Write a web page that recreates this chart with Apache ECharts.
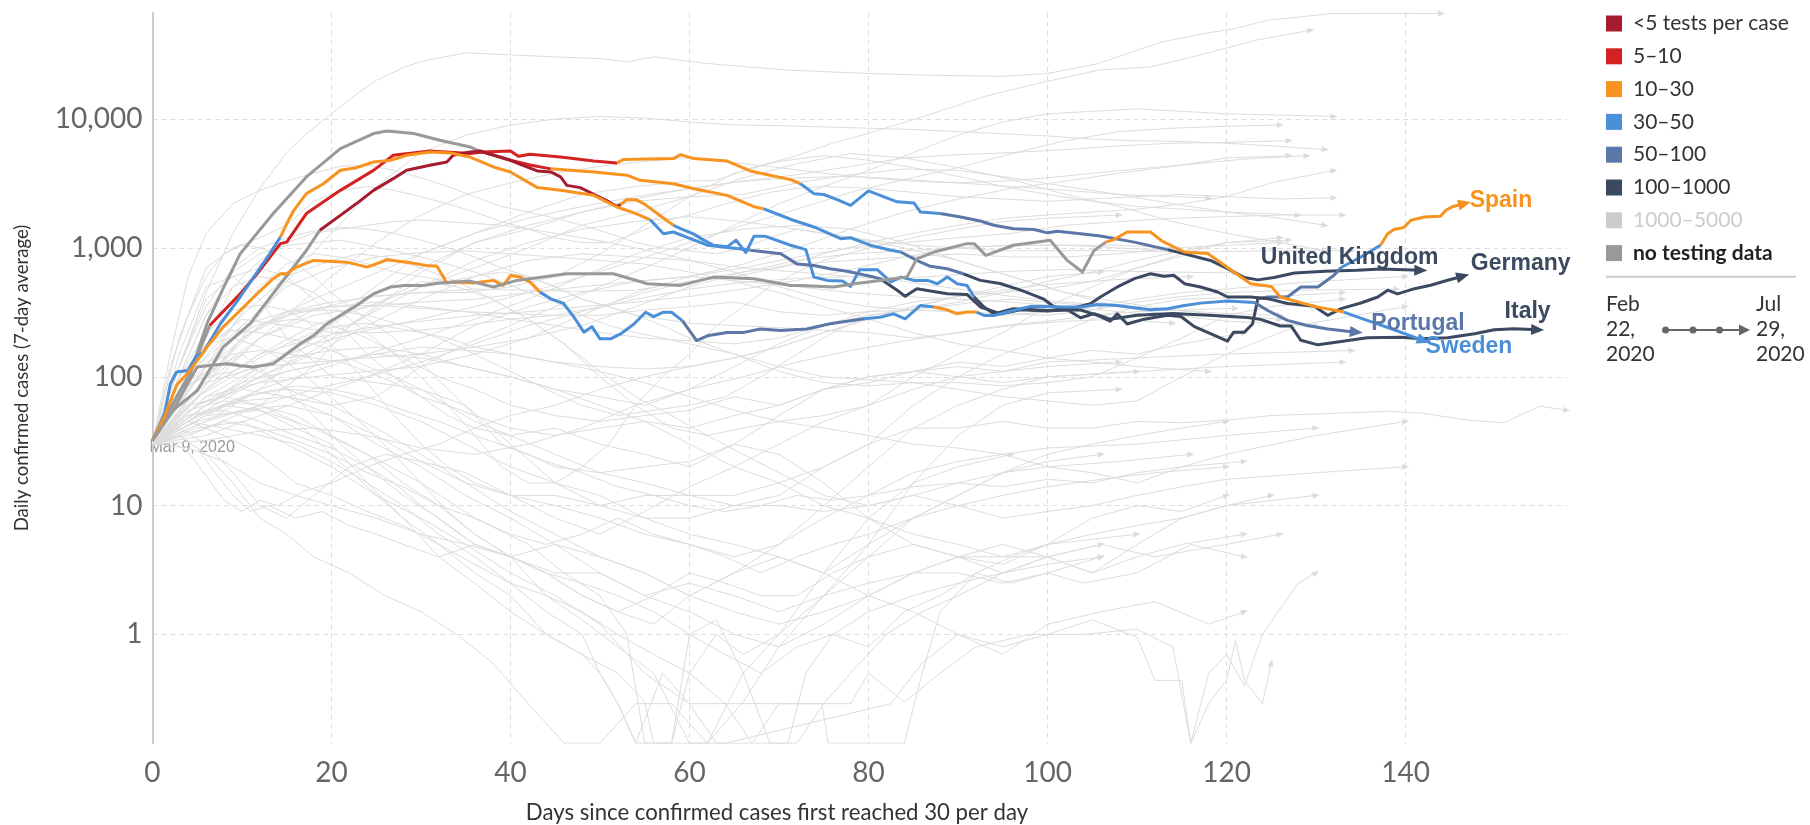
<!DOCTYPE html>
<html>
<head>
<meta charset="utf-8">
<script src="https://cdn.jsdelivr.net/npm/echarts@6/dist/echarts.min.js"></script>
<style>
  html, body { margin: 0; padding: 0; background: #fff; }
  #chart { width: 1810px; height: 825px; }
</style>
</head>
<body>
<div id="chart"></div>
<script>
// tests per case categories (legend order)
const categories = ['<5 tests per case', '5–10', '10–30', '30–50', '50–100', '100–1000', '1000–5000', 'no testing data'];
const dayTicks = [0, 20, 40, 60, 80, 100, 120, 140];
const caseTicks = [1, 10, 100, 1000, 10000];
const startDate = 'Feb\n22,\n2020';
const endDate = 'Jul\n29,\n2020';

// highlighted countries: [days since 30/day, daily cases (7-day avg)]
const unitedKingdom = [[0,32],[2.3,62],[4.2,105],[6.4,250],[9.8,440],[11.7,630],[14.3,1080],[15,1110],[17.2,1850],[21,2800],[24.7,4000],[26.9,5240],[31,5660],[35.5,5400],[37,5560],[40,5660],[40.9,5150],[42.2,5340],[45.6,5090],[49.3,4730],[51.9,4570],[52.6,4850],[58.2,4940],[59,5300],[60.5,4940],[64.2,4730],[66.8,3960],[69,3670],[71.3,3390],[72.4,3150],[73.9,2640],[75,2600],[76.5,2370],[78,2140],[80,2770],[81.3,2560],[83.2,2280],[85.1,2230],[85.8,1900],[88,1850],[90.3,1740],[92.5,1620],[94,1500],[96.2,1410],[98.5,1390],[100,1310],[101.1,1350],[103.7,1290],[105.9,1240],[109.7,1110],[113.4,970],[115.3,900],[118.2,800],[120.1,690],[122,590],[123.5,565],[125.3,590],[127.6,640],[131,660],[134.6,670],[137.2,685],[141.7,670]];
// [first day, category index] — tests per confirmed case along the line
const unitedKingdomTests = [[0,7],[6.4,1],[51.9,2],[72.4,3],[88,4],[113.4,5]];

const spain = [[0,32],[2.3,62],[4.2,105],[6.1,258],[8,500],[9.8,900],[13.5,1850],[17.2,3560],[21,5900],[24.7,7730],[26.2,8100],[29.2,7730],[32.1,6860],[35.5,6080],[36.4,5700],[40,4790],[42.2,4400],[44.5,4110],[45.6,4070],[49.3,3890],[53,3670],[54.5,3350],[58.2,3150],[60.5,2880],[64.2,2560],[67.2,2090],[68.3,2010],[71.6,1640],[73.9,1455],[76.9,1180],[78,1200],[80.2,1050],[82.5,960],[83.6,930],[85.4,800],[86.9,720],[88.8,690],[90.6,630],[92.5,560],[94.7,530],[97,470],[99.6,400],[100.7,350],[102.2,330],[103.7,330],[105.6,300],[107,270],[107.8,308],[108.9,257],[110.8,280],[113.4,300],[114.9,294],[116.4,245],[118.2,216],[120.1,189],[120.8,222],[122,222],[122.9,257],[123.5,404],[124.6,416],[126.8,416],[128.3,498],[130.2,498],[132,614],[132.8,705],[135,851],[137.2,1050],[138,1290],[138.7,1390],[139.8,1440],[140.6,1640],[142.1,1740],[143.9,1760],[144.5,1960],[145.3,2100],[146.6,2210]];
const spainTests = [[0,7],[36.4,1],[44.5,2],[68.3,3],[83.6,4],[90.6,5],[123.5,4],[132.8,3],[137.2,2]];

const italy = [[0,32],[2.3,55],[5,78],[7.9,170],[10.9,257],[14.3,525],[17.2,955],[18.7,1370],[21,1790],[22.8,2210],[24.7,2800],[26.9,3450],[28.4,4010],[31,4380],[32.9,4650],[33.6,5240],[35.5,5560],[36.6,5660],[40,4790],[41.1,4460],[43,3960],[44.5,3890],[45.6,3560],[46.3,3060],[47.8,2940],[49.3,2610],[50.8,2320],[51.9,2100],[52.3,2170],[53,2370],[54,2370],[54.9,2210],[56.4,1850],[58.2,1500],[59,1410],[60.5,1280],[61.6,1150],[62.7,1050],[64.2,1020],[65.2,1150],[66.3,920],[67.2,1230],[68.5,1230],[71.3,1050],[73,970],[73.9,594],[75.4,560],[77.1,553],[78,503],[79,676],[81,676],[82.5,545],[83.6,594],[85.1,560],[86.6,560],[87.7,527],[88.8,594],[89.9,527],[91,512],[91.8,416],[92.9,348],[94,308],[96.2,337],[98.5,331],[100,327],[102.2,331],[103.7,287],[105.2,309],[107,280],[110,300],[114,310],[118,300],[122.3,288],[123.8,279],[126,248],[127.2,248],[128.3,192],[130.2,177],[132.8,188],[135.7,201],[139.5,203],[141.7,197],[144.7,201],[147.7,216],[149.9,232],[152.1,236],[154.75,232]];
const italyTests = [[0,7],[18.7,0],[52.3,2],[58.2,3],[91.8,5]];

const germany = [[0,32],[0.85,43],[1.4,53],[2,88],[2.7,109],[4,112],[4.8,142],[5.7,155],[7.6,258],[9.8,416],[11.7,650],[13.1,900],[14.3,1215],[15,1540],[15.8,1960],[17.2,2640],[19.1,3150],[21,4010],[22.8,4200],[24.7,4650],[26.6,4790],[28.4,5240],[31,5560],[33.3,5460],[35.5,5080],[38.1,4250],[40,3890],[43,2940],[45.6,2800],[49.3,2560],[51.9,2080],[53.8,1870],[55.6,1660],[57.1,1290],[58.2,1330],[60.1,1180],[62,1050],[63.5,1020],[65.3,990],[66.8,960],[70.2,900],[72,752],[73.9,730],[75.7,690],[77.6,660],[80.6,594],[81.3,577],[83.2,469],[84.1,421],[85.4,483],[88.8,441],[91,436],[92.5,348],[94.8,308],[97,331],[100,324],[102.2,331],[104.8,369],[105.9,416],[107.8,498],[109.7,578],[111.5,630],[113,603],[114.1,614],[115.3,528],[117.1,498],[119,455],[120.1,416],[122.7,416],[124.6,404],[126.8,370],[129.8,352],[131.3,300],[132.8,338],[135,374],[136.9,416],[138,470],[139.1,440],[141,483],[142.8,513],[144.7,561],[146.4,603]];
const germanyTests = [[0,3],[14.3,2],[55.6,3],[66.8,4],[81.3,5]];

const portugal = [[0,32],[1.4,50],[2.7,86],[4.2,112],[6.1,170],[7.9,243],[9.8,327],[11.7,441],[13.5,577],[14.3,630],[15,630],[16.1,710],[18,800],[21.7,776],[24,710],[25,753],[26.2,810],[28.4,776],[30.6,730],[31.8,720],[32.9,534],[33.6,543],[35.9,534],[38.1,560],[39.2,512],[40,611],[41.1,594],[42.2,543],[43.3,454],[44.5,403],[45.9,372],[47.1,290],[48.2,222],[49.1,245],[50,197],[51.2,197],[52.3,215],[53.8,257],[55.1,317],[56,293],[57.1,317],[58,317],[59.2,273],[60.8,191],[62,208],[64.2,221],[66.1,221],[67.9,235],[70.2,229],[73.1,235],[75.7,258],[79.5,282],[81.3,290],[82.8,308],[84.1,282],[85.8,358],[87.3,348],[88.8,331],[89.9,308],[91,318],[92.1,318],[92.9,299],[94,299],[96.2,327],[98.1,352],[101.8,348],[103.7,348],[105.6,364],[107.8,358],[109.7,344],[111.5,331],[113.4,337],[115.3,358],[117.1,373],[120.1,387],[123.1,378],[124.6,327],[126.8,274],[129,250],[131.3,235],[134.5,222]];
const portugalTests = [[0,2],[43.3,3],[59.2,4],[79.5,3],[87.3,2],[92.1,3],[123.1,4]];

const sweden = [[0,32],[2.3,55],[5,119],[6.1,122],[8.3,126],[9.8,122],[11.3,119],[13.5,126],[15,151],[16.5,180],[18,209],[19.5,258],[21.3,309],[22.8,358],[24.7,441],[26.6,497],[28.1,512],[30.3,512],[32.1,534],[35.5,553],[38.1,497],[40.7,560],[46.3,630],[51.5,630],[55.3,527],[59,512],[62.7,594],[67.2,577],[71.3,512],[72.4,512],[76.1,497],[78.4,527],[81.3,560],[84.3,594],[85.4,824],[87.3,929],[91,1080],[91.8,1080],[93.1,875],[96.2,1050],[100.3,1146],[102.2,800],[103.9,650],[105.2,957],[106.5,1110],[107.4,1160],[108.9,1330],[111.5,1330],[112.8,1130],[115.3,930],[117.9,904],[120.3,690],[122.7,528],[125,503],[126,416],[129.8,352],[133.1,318],[135.7,274],[138.5,235],[142,191]];
const swedenTests = [[0,7],[106.5,2],[133.1,3]];

// other countries, drawn in light grey
const largeOutbreaks = [
  ['United States', [[0,30],[3,120],[6,450],[9,1300],[12,2900],[15,5500],[17,7500],[20,11000],[23,16000],[25,20000],[28,25000],[30,28000],[35,32700],[40,31500],[45,30400],[50,29500],[53,27800],[56,30400],[62,27000],[71,24000],[80,22600],[87,21900],[95,21500],[100,22600],[105.7,27000],[110,34300],[113,40000],[117.6,46300],[121,50600],[124.7,58700],[131.8,66000],[138,66200],[144,66000]]],
  ['India', [[0,30],[6,45],[12,80],[18,200],[24,450],[30,900],[36,1300],[42,1900],[48,2600],[54,3000],[60,3300],[63,3350],[67,4200],[71.4,5060],[76,6500],[80,7760],[86,10400],[92.8,14900],[99,19000],[105.7,24000],[111.5,25400],[116.2,30400],[123.3,41000],[129.4,49000]]],
  ['Russia', [[0,30],[5,70],[10,200],[15,550],[20,1300],[25,3000],[30,5500],[35,7500],[40,9000],[45,10000],[50,10500],[55,10200],[60,9500],[65,9000],[70,8900],[75,8700],[80,8500],[85,8300],[90,8000],[95,7700],[100,7400],[105,7000],[110,6800],[115,6700],[120,6500],[125,6200],[131,5800]]],
  ['Mexico', [[0,30],[6,60],[12,110],[18,200],[24,400],[30,700],[36,1100],[42,1500],[48,1900],[54,2400],[60,2900],[66,3300],[72,3700],[78,4300],[84,5000],[90,5300],[96,5500],[102,5800],[108,6200],[114,6500],[120,6600],[127,6800]]],
  ['Peru', [[0,30],[5,80],[10,150],[15,300],[20,600],[25,1100],[30,1800],[35,2600],[40,3200],[45,3800],[50,4300],[55,4700],[60,5000],[65,4600],[70,4200],[75,3800],[80,3500],[85,3300],[90,3200],[95,3300],[100,3500],[105,3800],[110,4100],[115,4400],[122,4900],[129,5200]]],
  ['Chile', [[0,30],[5,120],[10,250],[15,320],[20,380],[25,420],[30,450],[35,450],[40,500],[45,600],[50,900],[55,1500],[60,2500],[65,3800],[70,4700],[75,5200],[80,4800],[85,4200],[90,3600],[95,3000],[100,2600],[105,2300],[110,2100],[115,2000],[120,1900],[128,1800]]],
  ['South Africa', [[0,30],[5,100],[10,150],[15,80],[20,60],[25,70],[30,120],[35,180],[40,250],[45,350],[50,500],[55,700],[60,1000],[65,1500],[70,2200],[75,3000],[80,4000],[85,5500],[90,7500],[95,9500],[100,11000],[105,11500],[110,12000],[115,11500],[120,11000],[132,10500]]],
  ['Colombia', [[0,30],[6,70],[12,120],[18,180],[24,230],[30,280],[36,350],[42,450],[48,600],[54,800],[60,1100],[66,1500],[72,2000],[78,2700],[84,3400],[90,4200],[96,5400],[102,6800],[108,8000],[114,8500],[120,8800],[126,9000]]],
  ['Iran', [[0,30],[3,200],[6,700],[9,1000],[12,1200],[15,1500],[18,2300],[21,2800],[24,3000],[27,2800],[30,2500],[33,2200],[36,1900],[39,1600],[42,1400],[45,1200],[48,1100],[51,1100],[54,1300],[57,1600],[60,1800],[63,2100],[66,2400],[69,2700],[72,2900],[75,3000],[80,2900],[85,2700],[90,2500],[95,2400],[100,2300],[105,2400],[110,2500],[115,2600],[120,2500],[126,2400],[132,2450]]],
  ['Turkey', [[0,30],[2,150],[4,600],[6,1300],[9,2200],[12,2800],[15,3300],[18,3800],[21,4300],[24,4400],[27,4000],[30,3500],[33,3000],[36,2500],[39,2100],[42,1900],[45,1700],[48,1500],[51,1300],[54,1100],[57,1000],[60,950],[63,900],[66,1000],[69,1200],[72,1400],[75,1300],[80,1150],[85,1050],[90,1000],[95,950],[100,950],[105,960],[110,940],[115,930],[120,940],[125,950],[130,960],[134,950]]],
  ['Saudi Arabia', [[0,30],[6,60],[12,100],[18,160],[24,300],[30,650],[36,1100],[42,1400],[48,1900],[54,2300],[60,2500],[66,2600],[72,3200],[78,3700],[84,4100],[90,4000],[96,3500],[102,3000],[108,2600],[114,2200],[120,1900],[126,1700],[131,1500]]],
  ['Pakistan', [[0,30],[6,80],[12,150],[18,250],[24,350],[30,500],[36,700],[42,1000],[48,1500],[54,1900],[60,2500],[66,3500],[72,4500],[78,5400],[84,5000],[90,4200],[96,3400],[102,2600],[108,2100],[114,1600],[120,1300],[126,1100],[131,950]]],
  ['Bangladesh', [[0,30],[6,100],[12,250],[18,400],[24,600],[30,900],[36,1300],[42,1700],[48,2100],[54,2500],[60,2900],[66,3300],[72,3500],[78,3600],[84,3400],[90,3200],[96,3000],[102,2800],[108,2600],[114,2500],[118,2450]]],
  ['Qatar', [[0,30],[6,60],[12,120],[18,180],[24,300],[30,500],[36,800],[42,1100],[48,1400],[54,1600],[60,1750],[66,1600],[72,1400],[78,1200],[84,1000],[90,800],[96,600],[102,450],[108,350],[114,300],[120,270],[130,250]]],
  ['Argentina', [[0,30],[6,70],[12,90],[18,100],[24,110],[30,120],[36,150],[42,200],[48,300],[54,450],[60,600],[66,750],[72,1000],[78,1400],[84,1900],[90,2400],[96,2900],[102,3300],[108,3800],[114,4300],[120,5000],[127,5200]]],
  ['Philippines', [[0,30],[5,150],[10,280],[15,250],[20,220],[25,220],[30,230],[35,250],[40,280],[45,300],[50,350],[55,450],[60,550],[65,600],[70,700],[75,900],[80,1100],[85,1300],[90,1500],[95,1700],[100,1800],[105,1900],[110,2000],[115,2200],[120,2500],[125,3200],[132,4000]]],
  ['Indonesia', [[0,30],[6,100],[12,200],[18,300],[24,350],[30,380],[36,400],[42,450],[48,500],[54,550],[60,600],[66,700],[72,850],[78,1000],[84,1100],[90,1200],[96,1300],[102,1500],[108,1600],[114,1700],[120,1750],[126,1800],[133,1800]]],
  ['Canada', [[0,30],[3,80],[6,200],[9,500],[12,800],[15,1100],[18,1300],[21,1400],[24,1500],[27,1600],[30,1650],[33,1600],[36,1550],[39,1500],[42,1400],[45,1300],[48,1200],[51,1100],[54,1000],[57,900],[60,800],[65,650],[70,500],[75,400],[80,350],[85,330],[90,320],[95,310],[100,300],[105,330],[110,380],[115,420],[120,450],[128,470],[139,480]]],
  ['Belgium', [[0,30],[3,120],[6,350],[9,700],[12,1000],[15,1200],[18,1350],[21,1450],[24,1400],[27,1300],[30,1150],[33,1000],[36,850],[39,700],[42,600],[45,500],[48,400],[51,350],[54,300],[57,250],[60,200],[65,150],[70,110],[75,90],[80,85],[85,90],[90,90],[95,85],[100,90],[105,100],[110,140],[115,200],[120,300],[125,350],[133,400]]],
  ['Netherlands', [[0,30],[3,100],[6,300],[9,650],[12,900],[15,1050],[18,1100],[21,1150],[24,1050],[27,950],[30,850],[33,750],[36,650],[39,550],[42,450],[45,380],[48,300],[51,250],[54,220],[57,200],[60,180],[65,150],[70,120],[75,100],[80,95],[85,90],[90,80],[95,70],[100,65],[105,60],[110,65],[115,100],[120,150],[128,250],[140,350]]]
];

const mediumOutbreaks = [
  ['Egypt', [[0,30],[6,50],[12,80],[18,110],[24,150],[30,200],[36,280],[42,400],[48,600],[54,900],[60,1200],[66,1400],[72,1500],[78,1400],[84,1100],[90,800],[96,600],[102,450],[108,380],[114,330],[120,300],[126,280]]],
  ['Ukraine', [[0,30],[6,80],[12,200],[18,330],[24,420],[30,450],[36,480],[42,470],[48,460],[54,470],[60,550],[66,650],[72,750],[78,800],[84,850],[90,900],[96,850],[102,850],[108,900],[114,1000],[120,1050],[126,1100]]],
  ['Poland', [[0,30],[5,80],[10,200],[15,320],[20,350],[25,360],[30,340],[35,320],[40,310],[45,300],[50,300],[55,330],[60,350],[65,380],[70,320],[75,300],[80,320],[85,330],[90,320],[95,300],[100,320],[105,350],[110,400],[115,450],[120,480],[130,550],[140,600]]],
  ['Romania', [[0,30],[5,80],[10,200],[15,300],[20,350],[25,380],[30,350],[35,320],[40,280],[45,250],[50,220],[55,200],[60,190],[65,180],[70,200],[75,250],[80,300],[85,330],[90,380],[95,450],[100,550],[105,650],[110,800],[115,950],[120,1100],[127,1150]]],
  ['Israel', [[0,30],[3,100],[6,300],[9,500],[12,600],[15,550],[18,450],[21,320],[24,220],[27,150],[30,100],[33,60],[36,35],[39,20],[42,15],[45,15],[48,20],[51,30],[54,60],[57,100],[60,150],[63,250],[66,350],[69,500],[72,650],[75,800],[80,1000],[85,1200],[90,1400],[95,1600],[100,1700],[108,1800]]],
  ['Switzerland', [[0,30],[2,120],[4,300],[6,600],[8,900],[10,1050],[12,1000],[14,900],[16,750],[18,600],[20,450],[22,350],[24,280],[27,200],[30,130],[33,80],[36,50],[39,30],[42,25],[45,20],[50,18],[55,20],[60,22],[65,30],[70,50],[75,80],[80,100],[85,110],[90,120],[95,110],[100,130],[110,140],[120,150],[134,160]]],
  ['Austria', [[0,30],[3,120],[6,400],[9,600],[12,700],[15,600],[18,400],[21,250],[24,150],[27,100],[30,70],[33,60],[36,50],[40,40],[45,35],[50,40],[55,45],[60,40],[65,50],[70,60],[75,80],[80,100],[85,110],[90,100],[95,90],[100,100],[110,110],[120,120],[133,130]]],
  ['Ireland', [[0,30],[5,120],[10,300],[15,600],[20,800],[23,900],[26,850],[30,700],[34,550],[38,400],[42,280],[46,180],[50,110],[54,70],[58,50],[62,35],[66,25],[70,18],[75,12],[80,10],[85,12],[90,15],[95,14],[100,16],[105,15],[110,18],[115,20],[122,22]]],
  ['Japan', [[0,30],[6,40],[12,60],[18,120],[22,250],[26,400],[30,550],[34,500],[38,400],[42,280],[46,180],[50,100],[54,60],[58,40],[62,35],[66,40],[70,45],[75,50],[80,60],[85,100],[90,150],[95,220],[100,350],[105,500],[110,700],[115,900],[120,1100],[126,1200]]],
  ['South Korea', [[0,30],[3,150],[6,500],[9,600],[12,400],[15,200],[20,100],[25,90],[30,80],[35,60],[40,30],[45,15],[50,10],[55,8],[60,8],[65,10],[70,12],[75,20],[80,30],[85,40],[90,40],[95,45],[100,40],[105,40],[110,45],[115,44],[120,46],[125,50],[132,52],[138,54],[142,52],[147,46],[151,44],[155,59],[158,55]]],
  ['Malaysia', [[0,30],[3,90],[6,130],[9,150],[12,160],[15,150],[18,140],[21,130],[24,110],[27,90],[30,70],[33,50],[36,40],[40,35],[45,40],[50,30],[55,25],[60,20],[65,30],[70,25],[75,15],[80,8],[85,5],[90,4],[95,5],[100,4],[105,3],[110,5],[115,8],[120,10],[130,12]]],
  ['Australia', [[0,30],[3,100],[6,220],[9,330],[12,360],[15,330],[18,250],[21,150],[24,90],[27,50],[30,30],[33,20],[36,15],[40,12],[45,12],[50,10],[55,12],[60,12],[65,12],[70,15],[75,20],[80,30],[85,60],[90,100],[95,150],[100,200],[105,280],[110,350],[115,400],[125,420],[133,450]]],
  ['Norway', [[0,30],[3,100],[6,180],[9,230],[12,220],[15,200],[18,180],[21,150],[24,120],[27,100],[30,80],[33,60],[36,45],[40,35],[45,25],[50,18],[55,15],[60,12],[65,10],[70,10],[75,9],[80,10],[85,12],[90,10],[95,8],[100,9],[105,10],[110,12],[115,14],[120,16],[130,18],[140,20]]],
  ['Denmark', [[0,30],[3,80],[6,100],[9,110],[12,140],[15,180],[18,220],[21,250],[24,260],[27,240],[30,220],[33,200],[36,170],[40,150],[45,130],[50,110],[55,90],[60,70],[65,55],[70,45],[75,40],[80,35],[85,30],[90,28],[95,25],[100,20],[105,18],[110,15],[115,20],[120,25],[130,35],[140,45]]],
  ['Czechia', [[0,30],[4,80],[8,180],[12,260],[16,280],[20,250],[24,200],[28,140],[32,100],[36,80],[40,60],[45,50],[50,45],[55,50],[60,55],[65,70],[70,60],[75,80],[80,90],[85,110],[90,130],[95,120],[100,140],[105,160],[110,150],[115,180],[122,220]]],
  ['Bahrain', [[0,30],[6,45],[12,60],[18,80],[24,100],[30,130],[36,180],[42,250],[48,320],[54,400],[60,480],[66,540],[72,580],[78,600],[84,550],[90,480],[96,420],[102,380],[108,350],[114,330],[120,310],[126,300]]],
  ['Kuwait', [[0,30],[6,60],[12,100],[18,150],[24,250],[30,400],[36,600],[42,800],[48,900],[54,850],[60,800],[66,700],[72,650],[78,600],[84,580],[90,620],[96,660],[102,680],[108,660],[114,650],[121,640]]],
  ['Singapore', [[0,30],[3,60],[6,120],[9,250],[12,500],[15,750],[18,900],[21,850],[24,750],[27,650],[30,600],[33,550],[36,600],[39,650],[42,600],[45,500],[48,400],[51,350],[54,300],[57,280],[60,260],[65,250],[70,240],[75,230],[80,220],[85,200],[90,220],[95,250],[100,270],[105,300],[110,320],[115,330],[121,340]]],
  ['Dominican Republic', [[0,30],[6,80],[12,150],[18,200],[24,240],[30,270],[36,300],[42,320],[48,350],[54,380],[60,420],[66,480],[72,560],[78,680],[84,850],[90,1000],[96,1050],[102,1050],[108,1050],[114,1000]]],
  ['Panama', [[0,30],[6,90],[12,120],[18,130],[24,140],[30,150],[36,170],[42,200],[48,250],[54,350],[60,500],[66,650],[72,800],[78,900],[84,950],[90,1000],[96,1050],[102,1050],[108,1000],[114,950]]],
  ['Serbia', [[0,30],[4,80],[8,150],[12,250],[16,320],[20,330],[24,300],[28,250],[32,200],[36,150],[40,110],[44,80],[48,60],[52,50],[56,55],[60,60],[64,70],[68,100],[72,150],[76,220],[80,300],[84,330],[88,350],[92,380],[96,400],[100,380],[106,350]]],
  ['Armenia', [[0,30],[6,35],[12,50],[18,70],[24,100],[30,150],[36,250],[42,350],[48,450],[54,550],[60,600],[66,550],[72,500],[78,450],[84,420],[90,400],[96,380],[102,350],[108,320],[112,300]]],
  ['Belarus', [[0,30],[5,80],[10,250],[15,500],[20,700],[25,850],[30,920],[35,950],[40,900],[45,850],[50,800],[55,750],[60,650],[65,550],[70,450],[75,350],[80,280],[85,220],[90,180],[95,160],[100,140],[105,130],[110,120],[118,110]]],
  ['Bulgaria', [[0,30],[6,32],[12,38],[18,40],[24,35],[30,28],[36,25],[42,30],[48,40],[54,60],[60,80],[66,100],[72,130],[78,160],[84,190],[90,220],[96,250],[102,270],[108,280],[114,260]]],
  ['Morocco', [[0,30],[5,70],[10,110],[15,140],[20,160],[25,170],[30,150],[35,120],[40,100],[45,80],[50,70],[55,60],[60,80],[65,120],[70,180],[75,250],[80,320],[85,380],[90,420],[95,450],[100,480],[105,550],[110,700],[116,900]]],
  ['Algeria', [[0,30],[5,60],[10,90],[15,110],[20,130],[25,150],[30,170],[35,160],[40,150],[45,130],[50,120],[55,115],[60,120],[65,140],[70,170],[75,220],[80,280],[85,350],[90,420],[95,470],[100,520],[108,570],[116,600]]],
  ['Kenya', [[0,30],[2,32],[4,26],[6,17],[8,11],[10,9],[12,11],[14,10],[17,13],[20,15],[24,20],[28,25],[32,30],[36,40],[40,50],[45,60],[50,80],[55,100],[60,120],[65,140],[70,170],[75,220],[80,280],[85,350],[90,420],[95,500],[100,600],[106,650]]],
  ['Bosnia and Herzegovina', [[0,30],[3,40],[6,30],[9,18],[12,10],[15,8],[18,12],[22,20],[26,25],[30,22],[35,18],[40,12],[45,8],[50,6],[55,9],[60,14],[65,20],[70,30],[75,45],[80,60],[85,80],[90,100],[95,110],[100,120],[108,130]]]
];

const smallOutbreaks = [
  ['Finland', [[0,30],[5,50],[10,80],[15,110],[20,130],[25,150],[30,140],[35,120],[40,100],[45,80],[50,60],[55,45],[60,30],[65,20],[70,15],[75,10],[80,8],[85,6],[90,5],[95,4],[100,4],[105,3],[110,4],[115,5],[122,6]]],
  ['Greece', [[0,30],[5,50],[10,65],[15,70],[20,60],[25,40],[30,25],[35,15],[40,12],[45,10],[50,8],[55,6],[60,5],[65,4],[70,5],[75,8],[80,12],[85,18],[90,22],[95,25],[100,28],[110,30],[120,35],[130,40]]],
  ['Luxembourg', [[0,30],[3,100],[6,180],[9,200],[12,170],[15,130],[18,90],[21,60],[24,40],[27,25],[30,15],[33,9],[36,6],[40,4],[44,3],[48,2],[52,1.5],[56,1.2],[60,2],[65,3],[70,5],[75,10],[80,20],[85,40],[90,60],[95,80],[100,100],[110,110]]],
  ['Slovenia', [[0,30],[4,45],[8,40],[12,35],[16,30],[20,22],[24,15],[28,10],[32,6],[36,4],[40,2.5],[44,1.5],[48,1],[50,0.5],[52,0.29],[54,0.143],[58,0.143],[60,0.5],[63,1],[66,0.7],[70,1],[75,2],[80,4],[85,8],[90,12],[95,18],[100,22],[106,25]]],
  ['Croatia', [[0,30],[4,55],[8,65],[12,60],[16,50],[20,35],[24,25],[28,15],[32,10],[36,6],[40,4],[44,2],[48,1.3],[52,0.8],[56,0.5],[60,0.143],[62,0.143],[66,0.3],[70,0.8],[75,2],[80,5],[85,15],[90,35],[95,60],[100,75],[108,80]]],
  ['Iceland', [[0,30],[4,50],[8,60],[12,55],[16,40],[20,30],[24,15],[28,8],[32,4],[36,2.5],[40,1.5],[44,1],[48,0.7],[50,0.5],[52,0.29],[54,0.143],[57,0.5],[60,0.29],[63,0.143],[67,0.143],[70,0.29],[78,0.29],[80,0.5],[84,0.3],[88,0.5],[92,0.8],[98,1],[104,1],[110,1.1],[114,0.8],[116,0.143],[118,0.5],[120,0.7],[122,0.4],[124,1],[128,2.5],[130,3]]],
  ['New Zealand', [[0,30],[4,60],[8,70],[12,60],[16,45],[20,25],[24,14],[28,8],[32,5],[36,3],[40,2],[44,1],[48,0.7],[52,0.5],[55,0.3],[56,0.143],[64,0.143],[82.5,0.29],[86,0.6],[90,1],[95,0.7],[100,1.2],[106,1.5],[112,1.8],[118,1.2],[122,1.5]]],
  ['Estonia', [[0,30],[4,50],[8,55],[12,45],[16,35],[20,28],[24,20],[28,12],[32,8],[36,5],[40,4],[44,3],[48,2.5],[52,2],[56,1.5],[60,1],[64,0.7],[68,0.5],[72,0.8],[76,1],[80,1.5],[85,2],[90,2.5],[95,3],[100,3.5],[106,4]]],
  ['Lithuania', [[0,30],[4,35],[8,45],[12,40],[16,32],[20,25],[24,18],[28,14],[32,10],[36,8],[40,6],[44,5],[48,6],[52,8],[56,6],[60,5],[64,4],[68,3],[72,4],[76,5],[80,6],[85,8],[90,10],[95,12],[100,14],[106,16],[112,18],[120,20]]],
  ['Thailand', [[0,30],[3,80],[6,120],[9,130],[12,110],[15,80],[18,50],[21,30],[24,20],[27,15],[30,10],[33,7],[36,5],[40,4],[44,3],[48,2],[52,1.5],[56,2],[60,3],[64,2.5],[68,2],[72,2],[76,3],[80,4],[85,5],[90,4],[95,3],[100,4],[106,5],[112,4],[120,5],[126,6]]],
  ['Hungary', [[0,30],[4,45],[8,60],[12,75],[16,85],[20,80],[24,70],[28,55],[32,45],[36,35],[40,28],[44,22],[48,18],[52,14],[56,12],[60,10],[64,9],[68,10],[72,12],[76,11],[80,12],[85,14],[90,15],[95,18],[100,20],[108,22],[116,25]]],
  ['Latvia', [[0,30],[3,35],[5,28],[7,18],[9,12],[11,9],[13,10],[16,8],[19,9],[22,7],[25,6],[28,5],[32,4],[36,5],[40,4],[45,3],[50,3],[55,2],[60,2.5],[65,2],[70,1.5],[75,2],[80,2.5],[85,3],[90,4],[95,4],[100,5],[110,6]]],
  ['Cyprus', [[0,30],[4,45],[8,35],[12,25],[16,15],[20,12],[24,9],[28,7],[32,5],[36,3.5],[40,2.5],[44,2],[48,1.5],[52,1],[56,0.7],[60,0.5],[64,0.29],[67,0.143],[72,0.143],[75,0.29],[78,0.5],[82,1],[86,1.5],[90,2],[95,3],[100,4],[106,5]]],
  ['Uruguay', [[0,30],[5,40],[10,45],[15,30],[20,20],[25,12],[30,8],[35,5],[40,3],[45,2],[50,1.2],[55,0.5],[60,0.29],[65,0.29],[70,0.29],[74.8,0.29],[75.5,0.143],[84,0.143],[86,0.5],[88,1.5],[92,3],[96,4],[100,5],[105,8],[110,10],[115,9],[120,12]]],
  ['Costa Rica', [[0,30],[6,50],[12,55],[18,40],[24,25],[30,15],[36,8],[42,5],[46,3],[50,2],[53,1],[55,0.143],[58,0.143],[60,1],[63,1.3],[66,0.5],[69,0.143],[71,0.143],[73,0.5],[76,1],[80,0.8],[84,1.5],[88,2],[92,3],[96,2.5],[100,3],[104,2.5],[110,3],[116,5],[122,4]]],
  ['Tunisia', [[0,30],[5,50],[10,70],[15,80],[20,75],[25,60],[30,45],[35,30],[40,20],[45,15],[50,12],[55,8],[60,6],[65,5],[70,4],[75,3],[80,2],[85,1.5],[90,1],[95,0.8],[100,1],[105,1.3],[110,0.95],[112,0.44],[115,0.44],[116,0.143],[118,0.29],[120,0.44],[121,0.9],[122,0.44],[124,0.29],[125,0.6]]],
  ['Jordan', [[0,30],[5,60],[10,80],[15,70],[20,50],[25,30],[30,20],[35,12],[40,8],[45,5],[50,3],[55,2],[60,1.5],[65,1],[70,0.8],[75,1.2],[80,2],[85,3],[90,4],[95,3.5],[100,5],[105,6],[110,7],[115,8],[120,10],[125,12]]],
  ['Albania', [[0,30],[5,45],[10,55],[15,60],[20,50],[25,35],[30,22],[35,15],[40,9],[45,6],[50,4],[55,3],[60,2],[65,3],[70,4],[75,3],[80,5],[85,8],[90,12],[95,18],[100,25],[105,30],[110,35],[115,40],[120,45]]],
  ['Georgia', [[0,30],[4,28],[8,22],[12,15],[16,12],[20,10],[25,8],[30,6],[35,5],[40,4],[45,5],[50,4],[55,3],[60,2],[65,1.5],[70,1.2],[75,1.5],[80,2],[85,3],[90,3],[95,2.5],[100,3],[106,4]]],
  ['Montenegro', [[0,30],[3,35],[6,25],[9,15],[12,8],[15,6],[18,4],[22,3],[26,2],[30,1.5],[34,1],[38,0.6],[42,0.29],[46,0.143],[50,0.143],[54,0.29],[58,0.29],[62,0.143],[66,0.5],[70,1],[75,3],[80,8],[85,15],[90,20],[96,25]]]
];

const GRAY = '#dcdcdc';
const catColors = ['#a51c30', '#d42121', '#f7931e', '#4b8fd9', '#5b76a7', '#3b4a60', '#cccccc', '#999999'];

// cut a country's line into pieces, one per tests-per-case category
function splitByTests(points, tests) {
  return tests.map(([start, cat], k) => {
    const end = k + 1 < tests.length ? tests[k + 1][0] : Infinity;
    return { cat, seg: points.filter(p => p[0] >= start && p[0] <= end) };
  });
}

const highlighted = [
  { name: 'United Kingdom', points: unitedKingdom, tests: unitedKingdomTests, offset: [-160, -13] },
  { name: 'Spain', points: spain, tests: spainTests, offset: [5, -3] },
  { name: 'Italy', points: italy, tests: italyTests, offset: [-33, -18] },
  { name: 'Germany', points: germany, tests: germanyTests, offset: [8, -13] },
  { name: 'Portugal', points: portugal, tests: portugalTests, offset: [15, -8] },
  { name: 'Sweden', points: sweden, tests: swedenTests, offset: [2, 6] }
];

const chart = echarts.init(document.getElementById('chart'));

function withArrow(pts, size, color, rot) {
  const data = pts.slice(0, -1);
  const last = pts[pts.length - 1];
  data.push({ value: last, symbol: 'triangle', symbolSize: size, symbolRotate: rot || 0,
    itemStyle: { color: color } });
  return data;
}

function buildSeries(rotations) {
  const series = [];
  let idx = 0;
  [...largeOutbreaks, ...mediumOutbreaks, ...smallOutbreaks].forEach(([name, pts]) => {
    series.push({
      type: 'line', name: name, z: 2, silent: true, symbol: 'none',
      data: withArrow(pts, [6, 7], GRAY, rotations[idx]),
      lineStyle: { color: GRAY, width: 1 }, itemStyle: { color: GRAY },
      emphasis: { disabled: true }
    });
    idx++;
  });
  highlighted.forEach(c => {
    const segs = splitByTests(c.points, c.tests);
    segs.forEach((s, k) => {
      const color = catColors[s.cat];
      const isLast = k === segs.length - 1;
      const item = {
        type: 'line', name: categories[s.cat], z: 4, silent: true, symbol: 'none',
        data: isLast ? withArrow(s.seg, [11, 13], color, rotations[idx]) : s.seg,
        lineStyle: { color: color, width: 3, join: 'round' }, itemStyle: { color: color },
        emphasis: { disabled: true }
      };
      if (isLast) {
        item.endLabel = {
          show: true, formatter: c.name, color: color, distance: 0, offset: c.offset,
          fontFamily: 'Liberation Sans', fontWeight: 'bold', fontSize: 23
        };
        idx++;
      }
      series.push(item);
    });
  });
  series.push({ type: 'line', name: '1000–5000', data: [], itemStyle: { color: '#cccccc' }, lineStyle: { color: '#cccccc' } });
  return series;
}

function baseOption(series, extraGraphics) {
  return {
    animation: false,
    textStyle: { fontFamily: 'Lato' },
    grid: { left: 152.4, right: 243.3, top: 12.7, bottom: 81.7, outerBoundsMode: 'none', containLabel: false },
    xAxis: {
      type: 'value', min: 0, max: 158, interval: 20,
      axisLine: { show: false, onZero: false }, axisTick: { show: false },
      axisLabel: { fontSize: 28, color: '#666', margin: 16, showMaxLabel: false,
        formatter: v => dayTicks.includes(v) ? String(v) : '' },
      splitLine: { show: true, showMinLine: false, showMaxLine: false,
        lineStyle: { color: '#dddddd', type: [5, 4], width: 1 } }
    },
    yAxis: {
      type: 'log', logBase: 10, min: 1 / 7, max: 67000,
      name: 'Daily confirmed cases (7-day average)', nameLocation: 'middle', nameGap: 121,
      nameTextStyle: { fontSize: 18.6, color: '#333' },
      axisLine: { show: true, lineStyle: { color: '#cccccc', width: 2 } }, axisTick: { show: false },
      axisLabel: { fontSize: 28, color: '#666', margin: 10, showMinLabel: false, showMaxLabel: false,
        formatter: v => caseTicks.includes(v) ? v.toLocaleString('en-US') : '' },
      splitLine: { show: true, showMinLine: false, showMaxLine: false,
        lineStyle: { color: '#dddddd', type: [5, 4], width: 1 } }
    },
    legend: {
      orient: 'vertical', left: 1601, top: 8, itemWidth: 16, itemHeight: 16, itemGap: 11.8,
      icon: 'rect', selectedMode: false,
      textStyle: { fontSize: 21, color: '#333', padding: [0, 0, 0, 6] },
      data: categories.map(c => c === '1000–5000' ? { name: c, textStyle: { color: '#cccccc' } }
        : c === 'no testing data' ? { name: c, textStyle: { fontWeight: 'bold', color: '#222' } } : { name: c })
    },
    graphic: [
      { type: 'line', shape: { x1: 1606, y1: 276.7, x2: 1796, y2: 276.7 }, style: { stroke: '#cccccc', lineWidth: 2 } },
      { type: 'text', x: 1606, y: 292, style: { text: startDate, fontSize: 21, fontFamily: 'Lato', fill: '#333', lineHeight: 25 } },
      { type: 'text', x: 1756, y: 292, style: { text: endDate, fontSize: 21, fontFamily: 'Lato', fill: '#333', lineHeight: 25 } },
      { type: 'line', shape: { x1: 1665.6, y1: 330, x2: 1741, y2: 330 }, style: { stroke: '#666', lineWidth: 2 } },
      { type: 'circle', shape: { cx: 1665.6, cy: 330, r: 3.5 }, style: { fill: '#666' } },
      { type: 'circle', shape: { cx: 1693, cy: 330, r: 3.5 }, style: { fill: '#666' } },
      { type: 'circle', shape: { cx: 1719.5, cy: 330, r: 3.5 }, style: { fill: '#666' } },
      { type: 'polygon', shape: { points: [[1750, 330], [1739, 324.5], [1739, 335.5]] }, style: { fill: '#666' } },
      { type: 'text', x: 777, y: 813, style: { text: 'Days since confirmed cases first reached 30 per day',
        fontSize: 22.2, fontFamily: 'Lato', fill: '#333', align: 'center', verticalAlign: 'middle' } },
      ...extraGraphics
    ],
    series: series
  };
}

// first pass: lay out, then point each end arrow along its last segment
chart.setOption(baseOption(buildSeries([]), []));
const rotations = [];
const lastPairs = [];
[...largeOutbreaks, ...mediumOutbreaks, ...smallOutbreaks].forEach(([, pts]) => lastPairs.push(pts.slice(-2)));
highlighted.forEach(c => lastPairs.push(c.points.slice(-2)));
lastPairs.forEach(([a, b]) => {
  const pa = chart.convertToPixel({ gridIndex: 0 }, a);
  const pb = chart.convertToPixel({ gridIndex: 0 }, b);
  rotations.push(Math.atan2(-(pb[0] - pa[0]), -(pb[1] - pa[1])) * 180 / Math.PI);
});
const startPx = chart.convertToPixel({ gridIndex: 0 }, [0, 30]);
const startLabel = { type: 'text', x: startPx[0] - 3, y: startPx[1] + 3,
  style: { text: 'Mar 9, 2020', fontSize: 16, fontFamily: 'Liberation Sans', fill: '#999', verticalAlign: 'middle' } };
chart.setOption(baseOption(buildSeries(rotations), [startLabel]), true);
</script>
</body>
</html>
